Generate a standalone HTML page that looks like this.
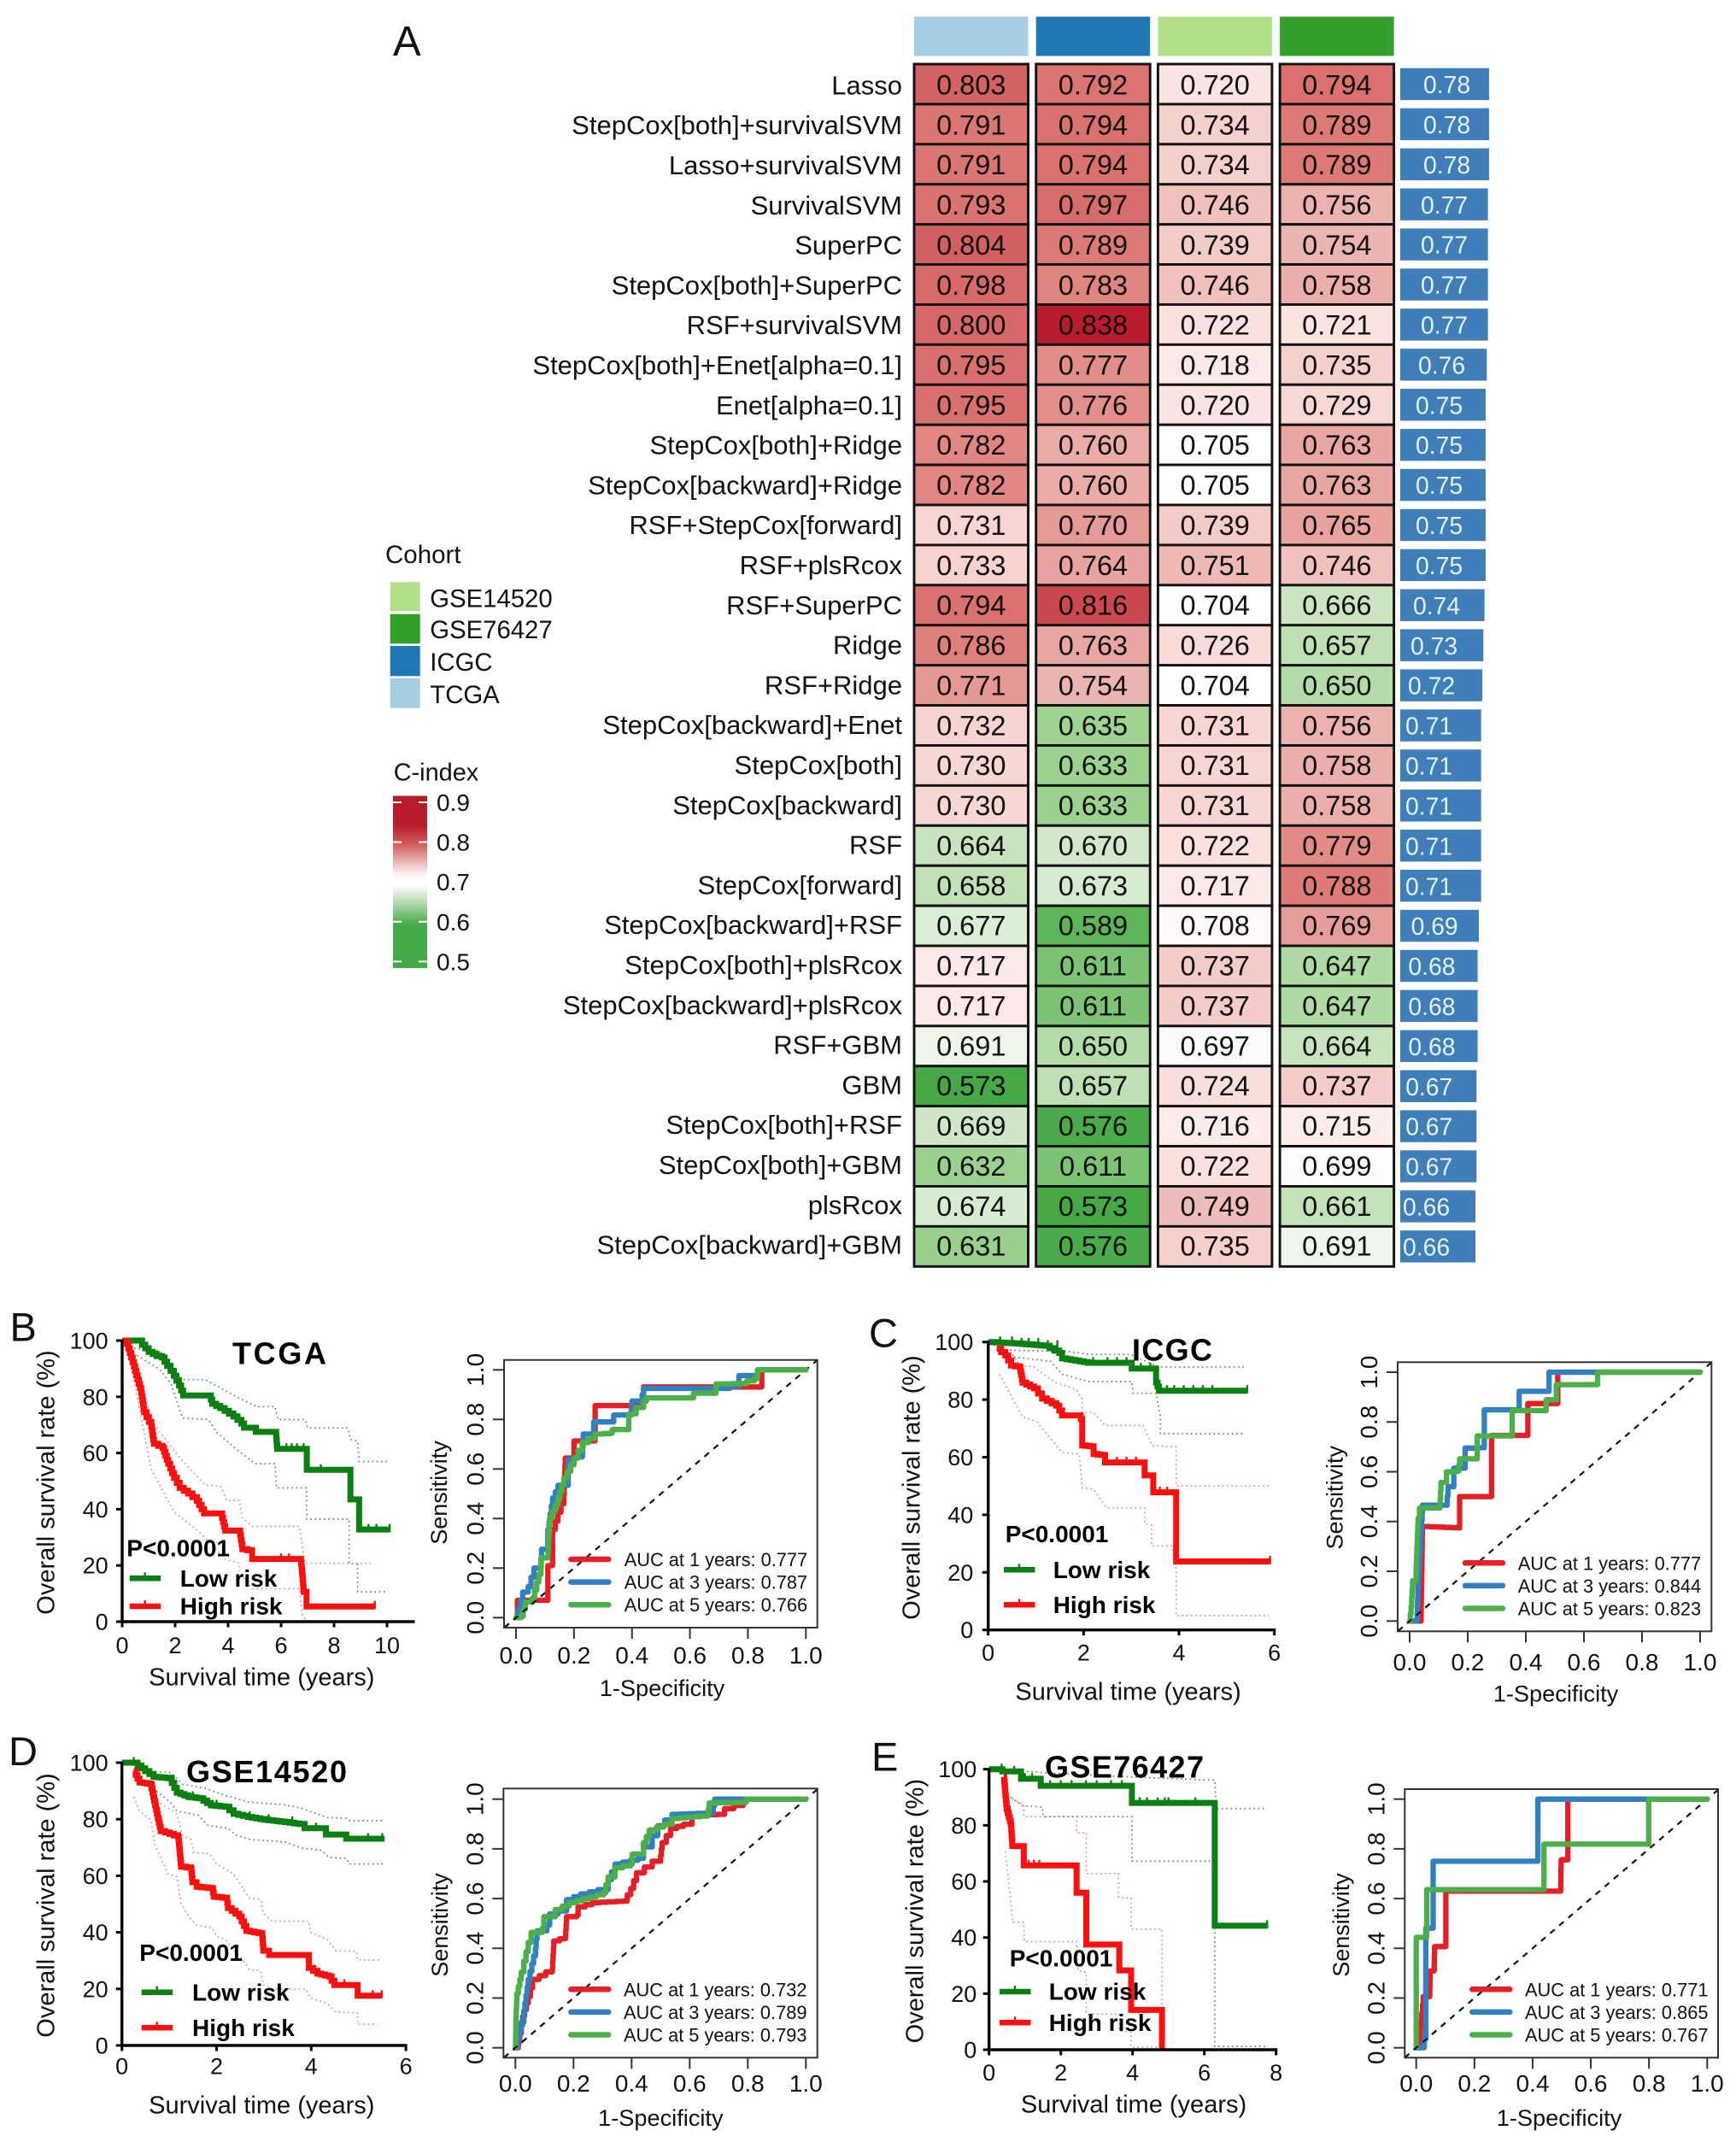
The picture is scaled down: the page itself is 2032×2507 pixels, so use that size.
<!DOCTYPE html>
<html lang="en">
<head>
<meta charset="utf-8">
<title>Prognostic model C-index heatmap with survival and ROC curves</title>
<style>
html,body{margin:0;padding:0;background:#fff;}
svg{display:block;font-family:"Liberation Sans",Arial,sans-serif;}
</style>
</head>
<body>
<svg id="figure" xmlns="http://www.w3.org/2000/svg" width="2032" height="2507" viewBox="0 0 2032 2507">
<defs>
<linearGradient id="cindexGradient" x1="0" y1="0" x2="0" y2="1">
<stop offset="0" stop-color="#b81c2c"/>
<stop offset="0.17" stop-color="#b81c2c"/>
<stop offset="0.28" stop-color="#cf5c5c"/>
<stop offset="0.45" stop-color="#fbeeee"/>
<stop offset="0.49" stop-color="#ffffff"/>
<stop offset="0.52" stop-color="#ffffff"/>
<stop offset="0.63" stop-color="#aed4a8"/>
<stop offset="0.75" stop-color="#45a947"/>
<stop offset="1" stop-color="#45a947"/>
</linearGradient>
</defs>
<rect x="0" y="0" width="2032" height="2507" fill="#fff"/>
</svg>
<script>
/* ---------- Panel A data ---------- */
const modelNames = ["Lasso","StepCox[both]+survivalSVM","Lasso+survivalSVM","SurvivalSVM","SuperPC","StepCox[both]+SuperPC","RSF+survivalSVM","StepCox[both]+Enet[alpha=0.1]","Enet[alpha=0.1]","StepCox[both]+Ridge","StepCox[backward]+Ridge","RSF+StepCox[forward]","RSF+plsRcox","RSF+SuperPC","Ridge","RSF+Ridge","StepCox[backward]+Enet","StepCox[both]","StepCox[backward]","RSF","StepCox[forward]","StepCox[backward]+RSF","StepCox[both]+plsRcox","StepCox[backward]+plsRcox","RSF+GBM","GBM","StepCox[both]+RSF","StepCox[both]+GBM","plsRcox","StepCox[backward]+GBM"];
const tcgaCindex = [0.803,0.791,0.791,0.793,0.804,0.798,0.800,0.795,0.795,0.782,0.782,0.731,0.733,0.794,0.786,0.771,0.732,0.730,0.730,0.664,0.658,0.677,0.717,0.717,0.691,0.573,0.669,0.632,0.674,0.631];
const icgcCindex = [0.792,0.794,0.794,0.797,0.789,0.783,0.838,0.777,0.776,0.760,0.760,0.770,0.764,0.816,0.763,0.754,0.635,0.633,0.633,0.670,0.673,0.589,0.611,0.611,0.650,0.657,0.576,0.611,0.573,0.576];
const gse14520Cindex = [0.720,0.734,0.734,0.746,0.739,0.746,0.722,0.718,0.720,0.705,0.705,0.739,0.751,0.704,0.726,0.704,0.731,0.731,0.731,0.722,0.717,0.708,0.737,0.737,0.697,0.724,0.716,0.722,0.749,0.735];
const gse76427Cindex = [0.794,0.789,0.789,0.756,0.754,0.758,0.721,0.735,0.729,0.763,0.763,0.765,0.746,0.666,0.657,0.650,0.756,0.758,0.758,0.779,0.788,0.769,0.647,0.647,0.664,0.737,0.715,0.699,0.661,0.691];
const meanCindex = [0.78,0.78,0.78,0.77,0.77,0.77,0.77,0.76,0.75,0.75,0.75,0.75,0.75,0.74,0.73,0.72,0.71,0.71,0.71,0.71,0.71,0.69,0.68,0.68,0.68,0.67,0.67,0.67,0.66,0.66];
const cohortLegendNames = ["GSE14520","GSE76427","ICGC","TCGA"];
const colorbarTicks = [0.9,0.8,0.7,0.6,0.5];

/* ---------- Survival curves: [years, survival %] ---------- */
const tcgaLow = [[0,100],[0.55,100],[0.75,98.5],[1,96],[1.3,94.5],[1.5,94],[1.7,91],[1.95,87.5],[2.15,84],[2.3,80.5],[3.3,80.5],[3.4,77.5],[3.7,76],[4.2,73],[4.5,70.5],[4.6,69],[5,69],[5.05,67.5],[5.8,67.5],[5.85,61.5],[6.97,61.5],[6.97,54],[8.62,54],[8.62,43.5],[8.95,43.5],[8.95,32.8],[10.1,32.8]];
const tcgaHigh = [[0,100],[0.18,98.8],[0.45,90.7],[0.72,81.6],[0.83,74.5],[1.1,69.4],[1.2,63.3],[1.53,61.8],[1.74,56.2],[1.96,51.2],[2.17,47.6],[2.49,45.6],[2.82,43],[3.09,38.5],[3.73,38.5],[3.89,32.4],[4.43,32.4],[4.54,25.8],[4.91,25],[4.91,22.3],[6.74,22.3],[6.8,16.7],[6.85,10.6],[6.96,10.6],[6.96,5.4],[9.54,5.4]];
const tcgaLowUpper = [[0.45,97.3],[1.42,96.3],[2.28,86.1],[3.14,86.1],[4.32,80],[5.08,76.5],[5.77,76.5],[5.88,71.9],[6.9,71.9],[7.01,68.9],[8.52,68.9],[8.62,64.8],[8.89,64.3],[8.95,57],[10.08,57]];
const tcgaLowLower = [[0.56,94.7],[1.42,89.7],[1.85,84.6],[2.28,72.4],[3.25,71.9],[3.57,67.4],[4.32,61.3],[5.02,56.2],[5.77,56.2],[5.83,47.6],[6.96,47.6],[6.96,36.5],[8.57,36.5],[8.57,20.8],[8.89,20.3],[8.89,10.6],[9.97,10.6]];
const tcgaHighUpper = [[0.24,97.8],[0.88,79.5],[1.1,71.4],[1.85,62.3],[2.28,57.2],[3.14,48.6],[3.73,48.1],[3.95,43.1],[4.43,43.1],[4.54,37],[4.91,33.9],[6.69,33.9],[6.9,20.8],[9.48,20.8]];
const tcgaHighLower = [[0.34,90.7],[1.1,54.2],[1.96,39],[2.92,31.9],[3.89,22.3],[4.43,20.8],[4.43,17.7],[4.91,11.7],[6.69,11.7],[6.8,2.5],[6.96,0]];
const tcgaLowCensor = [6.2,6.4,6.6,6.85,7.5,9.3,9.6,10.1];
const tcgaHighCensor = [6,6.3,9.54];

const icgcLow = [[0,100],[0.6,99.5],[1.19,98.7],[1.49,96.2],[1.55,94.3],[2.09,92.8],[3.01,92.8],[3.01,90.8],[3.52,90.8],[3.52,85.9],[3.58,83.1],[5.43,83.1]];
const icgcHigh = [[0.18,97.7],[0.36,95.3],[0.48,91.8],[0.66,91.3],[0.72,85.9],[0.96,83.9],[1.13,80.4],[1.43,77.9],[1.55,74.5],[1.91,74.5],[1.97,72],[1.97,64.1],[2.21,63.6],[2.21,61.1],[2.45,60.6],[2.45,58.2],[3.28,58.2],[3.28,53.7],[3.46,53.7],[3.46,47.8],[3.94,47.8],[3.94,23.8],[5.91,23.8]];
const icgcLowUpper = [[0.36,97.2],[1.67,96.7],[2.15,95.7],[2.99,95.7],[3.58,91.3],[5.4,91.3]];
const icgcLowLower = [[0.54,94.8],[1.31,93.3],[1.55,88.8],[2.09,86.3],[3.01,86.3],[3.04,82.2],[3.52,82.2],[3.61,74],[3.61,68.2],[5.37,68.2]];
const icgcHighUpper = [[0.24,97.2],[0.54,95.3],[0.66,91.8],[0.96,91.3],[1.37,86.3],[1.85,83.4],[1.97,80.4],[1.97,75.5],[2.21,75.5],[2.45,71],[3.25,71],[3.43,64.1],[3.94,63.6],[3.94,50],[5.91,50]];
const icgcHighLower = [[0.24,88.8],[0.48,81.4],[0.72,74],[1.01,72.5],[1.55,61.6],[1.91,61.1],[1.97,49.3],[2.21,48.8],[2.48,42.4],[3.28,42.4],[3.28,36.9],[3.43,36.4],[3.43,29.2],[3.85,29.2],[3.94,21],[3.94,5],[5.88,5]];
const icgcLowCensor = [0.25,0.5,0.7,0.85,1.05,1.25,1.45,2.2,2.5,2.7,2.9,3.2,3.4,3.75,3.9,4.1,4.3,4.5,4.7,5.43];
const icgcHighCensor = [2.7,2.9,3.1,3.6,3.75,5.91];

const gseOneLow = [[0,100],[0.25,100],[0.49,97],[0.67,95],[1,94.5],[1.16,89.4],[1.4,87.9],[1.64,87.4],[1.88,84.9],[2.18,84.4],[2.36,81.9],[2.66,80.8],[3.02,79.8],[3.44,79],[3.74,78.3],[3.86,76.8],[4.22,76.8],[4.31,74.6],[4.74,74.6],[4.74,73.1],[5.55,73.1]];
const gseOneHigh = [[0.25,97],[0.37,93],[0.61,92.4],[0.7,84.9],[0.82,75.8],[1.19,73.8],[1.25,63.2],[1.46,62.7],[1.49,57.7],[1.58,56.1],[1.91,55.6],[1.94,52.6],[2.21,52.1],[2.24,48.6],[2.48,45.6],[2.63,40.5],[2.96,39.5],[2.99,33.5],[3.11,32],[3.95,32],[3.95,27.4],[4.13,25.4],[4.37,24.4],[4.49,21.4],[4.98,21.4],[4.98,17.6],[5.49,17.6]];
const gseOneLowUpper = [[0.61,97],[1.03,96.5],[1.28,92.4],[1.76,90.9],[2.18,88.4],[2.66,86.1],[3.44,85.1],[3.8,83.9],[3.98,82.7],[4.34,80.6],[4.74,80.3],[4.8,79.5],[5.49,79.5]];
const gseOneLowLower = [[0.73,89.9],[1.03,85.9],[1.16,82.9],[1.61,81.4],[1.82,77.8],[2.24,76.8],[2.42,74.3],[2.72,72.8],[3.44,72],[3.8,69.8],[4.22,69],[4.37,66.5],[4.74,66.2],[4.8,64.2],[5.52,64.2]];
const gseOneHighUpper = [[0.61,90.9],[0.79,85.9],[1.16,81.9],[1.28,74.3],[1.46,72.8],[1.52,68.2],[1.85,67.7],[2,64.2],[2.36,60.7],[2.69,52.1],[2.93,51.6],[2.99,46.6],[3.17,44],[3.95,44],[3.98,40],[4.34,37.5],[4.52,33.5],[4.95,33.3],[4.98,30.2],[5.46,30.2]];
const gseOneHighLower = [[0.25,87.9],[0.37,82.9],[0.61,79.8],[0.7,70.8],[0.97,60.7],[1.16,59.7],[1.25,50.1],[1.46,44.6],[1.58,42.5],[1.91,41.5],[2,38.5],[2.18,37.5],[2.54,30.4],[2.69,26.9],[2.93,26.4],[2.99,21.4],[3.2,19.9],[3.89,19.9],[3.98,16.8],[4.34,14.8],[4.52,11.8],[4.98,11.5],[4.98,7.5],[5.4,7.5]];
const gseOneLowCensor = [0.25,1.5,2,2.7,3.1,3.6,4.1,5.2,5.5];
const gseOneHighCensor = [4.7,5.3,5.49];

const gseTwoLow = [[0,100],[0.37,100],[0.37,99.2],[0.89,99.2],[0.89,96.6],[1.44,96.6],[1.44,94.1],[3.98,94.1],[3.98,88],[6.29,88],[6.29,44.2],[7.75,44.2]];
const gseTwoHigh = [[0.41,97.2],[0.49,86],[0.61,79.9],[0.65,72.6],[0.97,72.6],[0.97,65.7],[2.44,65.7],[2.44,56],[2.71,56],[2.71,37.5],[3.63,37.5],[3.63,28.3],[3.96,28.3],[3.96,14.2],[4.82,14.2],[4.82,0]];
const gseTwoLowUpper = [[0.93,99.4],[1.56,98.7],[4.02,97.2],[6.29,96.1],[6.33,86],[7.75,86]];
const gseTwoLowLower = [[0.61,90],[0.93,87],[1.48,86.5],[1.52,83.1],[3.98,83.1],[3.98,67.2],[6.29,67.2],[6.29,1.2],[7.71,1.2]];
const gseTwoHighUpper = [[0.53,90],[0.97,87.5],[0.97,83.1],[2.44,83.1],[2.44,77.4],[2.71,77.4],[2.71,62.8],[3.61,62.8],[3.61,54.3],[3.96,54],[3.96,43],[4.82,43],[4.82,0]];
const gseTwoHighLower = [[0.45,70.8],[0.61,52.5],[0.65,45.4],[0.97,45.4],[0.98,38.6],[2.44,38.6],[2.48,28.1],[2.71,27.6],[2.71,12.7],[3.63,12.7],[3.63,6.8],[3.96,6.3],[3.96,0.9],[4.82,0.9]];
const gseTwoLowCensor = [0.35,0.7,1,1.2,1.7,2,2.3,2.7,3,3.4,3.7,4.2,4.4,4.7,4.9,5,5.75,7.75];
const gseTwoHighCensor = [1.1,1.25,1.4];

/* ---------- ROC curves: [1-specificity, sensitivity] ---------- */
const aucYears = [1,3,5];
const tcgaAuc = [0.777,0.787,0.766];
const icgcAuc = [0.777,0.844,0.823];
const gseOneAuc = [0.732,0.789,0.793];
const gseTwoAuc = [0.771,0.865,0.767];
const rocTicks = [0,0.2,0.4,0.6,0.8,1];
const kmYTicks = [0,20,40,60,80,100];
const tcgaRoc1 = [[0,0],[0.005,0],[0.005,0.07],[0.11,0.07],[0.11,0.21],[0.126,0.21],[0.126,0.356],[0.145,0.425],[0.165,0.494],[0.17,0.644],[0.2,0.644],[0.2,0.713],[0.273,0.713],[0.273,0.856],[0.44,0.856],[0.44,0.931],[0.848,0.931],[0.848,1],[1,1]];
const tcgaRoc3 = [[0,0],[0.008,0.034],[0.023,0.103],[0.042,0.126],[0.062,0.2],[0.086,0.2],[0.088,0.276],[0.11,0.28],[0.11,0.356],[0.126,0.483],[0.145,0.534],[0.18,0.563],[0.18,0.638],[0.229,0.66],[0.232,0.741],[0.268,0.747],[0.268,0.79],[0.337,0.79],[0.337,0.818],[0.396,0.818],[0.4,0.874],[0.435,0.9],[0.44,0.925],[0.705,0.925],[0.769,0.943],[0.769,0.977],[0.828,0.977],[0.833,1],[1,1]];
const tcgaRoc5 = [[0,0],[0.018,0.006],[0.032,0.063],[0.057,0.08],[0.086,0.207],[0.086,0.241],[0.11,0.253],[0.116,0.402],[0.145,0.483],[0.165,0.563],[0.2,0.644],[0.229,0.707],[0.273,0.741],[0.327,0.745],[0.332,0.759],[0.389,0.759],[0.389,0.822],[0.44,0.874],[0.45,0.887],[0.607,0.887],[0.612,0.906],[0.681,0.906],[0.69,0.943],[0.769,0.945],[0.823,0.966],[0.833,1],[1,1]];
const icgcRoc1 = [[0,0],[0.039,0],[0.044,0.38],[0.172,0.374],[0.172,0.5],[0.282,0.5],[0.282,0.746],[0.407,0.746],[0.407,0.874],[0.51,0.874],[0.51,1],[1,1]];
const icgcRoc3 = [[0,0],[0.025,0],[0.029,0.151],[0.044,0.466],[0.127,0.466],[0.132,0.54],[0.152,0.546],[0.152,0.614],[0.191,0.62],[0.191,0.695],[0.257,0.698],[0.257,0.849],[0.377,0.849],[0.377,0.923],[0.48,0.923],[0.48,1],[1,1]];
const icgcRoc5 = [[0,0],[0.005,0.059],[0.01,0.162],[0.022,0.208],[0.029,0.414],[0.034,0.454],[0.103,0.454],[0.108,0.557],[0.127,0.563],[0.127,0.6],[0.167,0.603],[0.172,0.652],[0.233,0.652],[0.233,0.744],[0.353,0.744],[0.353,0.846],[0.47,0.846],[0.47,0.889],[0.505,0.889],[0.505,0.95],[0.647,0.95],[0.647,1],[1,1]];
const gseOneRoc1 = [[0,0],[0.01,0.023],[0.025,0.126],[0.044,0.206],[0.059,0.275],[0.127,0.32],[0.132,0.43],[0.172,0.447],[0.176,0.527],[0.211,0.533],[0.216,0.567],[0.265,0.584],[0.373,0.59],[0.397,0.641],[0.417,0.704],[0.471,0.75],[0.5,0.773],[0.505,0.825],[0.534,0.882],[0.578,0.899],[0.608,0.934],[0.696,0.939],[0.72,0.962],[0.784,0.987],[0.794,1],[1,1]];
const gseOneRoc3 = [[0,0],[0.02,0.103],[0.029,0.149],[0.044,0.275],[0.069,0.401],[0.074,0.47],[0.108,0.493],[0.118,0.538],[0.147,0.55],[0.176,0.596],[0.225,0.619],[0.284,0.636],[0.319,0.676],[0.343,0.739],[0.422,0.762],[0.441,0.808],[0.471,0.853],[0.49,0.893],[0.539,0.939],[0.676,0.945],[0.686,1],[1,1]];
const gseOneRoc5 = [[0,0],[0.002,0.126],[0.005,0.218],[0.02,0.304],[0.029,0.349],[0.044,0.424],[0.054,0.464],[0.093,0.481],[0.098,0.527],[0.137,0.556],[0.186,0.584],[0.255,0.607],[0.304,0.624],[0.319,0.687],[0.343,0.724],[0.397,0.739],[0.402,0.779],[0.441,0.825],[0.461,0.876],[0.51,0.899],[0.539,0.922],[0.662,0.934],[0.667,0.985],[0.784,0.987],[0.794,1],[1,1]];
const gseTwoRoc1 = [[0,0],[0.012,0.04],[0.024,0.206],[0.046,0.206],[0.048,0.309],[0.061,0.309],[0.063,0.407],[0.102,0.407],[0.102,0.63],[0.496,0.63],[0.498,0.756],[0.521,0.756],[0.521,1],[1,1]];
const gseTwoRoc3 = [[0,0],[0.022,0],[0.033,0.069],[0.033,0.481],[0.058,0.481],[0.058,0.75],[0.418,0.75],[0.418,1],[1,1]];
const gseTwoRoc5 = [[0,0],[0,0.444],[0.036,0.444],[0.036,0.636],[0.439,0.636],[0.439,0.819],[0.799,0.819],[0.799,1],[1,1]];

/* ---------- layout (pixel geometry, separate from data) ---------- */
const svg = document.getElementById('figure');
const SVGNS = 'http://www.w3.org/2000/svg';

function addGroup(parent, name) {
  const el = document.createElementNS(SVGNS, 'g');
  
  
  parent.appendChild(el);
  return el;
}
function addRect(parent, name, x, y, w, h, fill, stroke, sw) {
  const el = document.createElementNS(SVGNS, 'rect');
  
  
  el.setAttribute('x', x);
  el.setAttribute('y', y);
  el.setAttribute('width', w);
  el.setAttribute('height', h);
  el.setAttribute('fill', fill);
  if (stroke) { el.setAttribute('stroke', stroke); el.setAttribute('stroke-width', sw); }
  parent.appendChild(el);
  return el;
}
function addLine(parent, name, x1, y1, x2, y2, color, width, dash, cap) {
  const el = document.createElementNS(SVGNS, 'line');
  
  
  el.setAttribute('x1', x1);
  el.setAttribute('y1', y1);
  el.setAttribute('x2', x2);
  el.setAttribute('y2', y2);
  el.setAttribute('stroke', color);
  el.setAttribute('stroke-width', width);
  if (dash) el.setAttribute('stroke-dasharray', dash);
  if (cap) el.setAttribute('stroke-linecap', cap);
  parent.appendChild(el);
  return el;
}
function addText(parent, name, str, x, y, size, anchor, weight, fill, rotate, len) {
  const el = document.createElementNS(SVGNS, 'text');
  
  
  el.setAttribute('x', x);
  el.setAttribute('y', y);
  el.setAttribute('font-size', size);
  el.setAttribute('text-anchor', anchor || 'start');
  if (weight) el.setAttribute('font-weight', weight);
  el.setAttribute('fill', fill || '#111');
  if (rotate) el.setAttribute('transform', 'rotate(-90 ' + x + ' ' + y + ')');
  if (len) el.setAttribute('textLength', len);
  el.textContent = str;
  parent.appendChild(el);
  return el;
}
function addPolyline(parent, name, pts, color, width, dash, join, cap) {
  const el = document.createElementNS(SVGNS, 'polyline');
  
  
  el.setAttribute('points', pts.map(function (p) { return p[0].toFixed(1) + ',' + p[1].toFixed(1); }).join(' '));
  el.setAttribute('fill', 'none');
  el.setAttribute('stroke', color);
  el.setAttribute('stroke-width', width);
  if (dash) el.setAttribute('stroke-dasharray', dash);
  el.setAttribute('stroke-linejoin', join || 'miter');
  if (cap) el.setAttribute('stroke-linecap', cap);
  parent.appendChild(el);
  return el;
}
/* Survival and ROC estimators are step functions: render sloped stretches between read points as fine stairs. */
function stairs(pts, step) {
  const out = [pts[0]];
  for (let i = 1; i < pts.length; i++) {
    const a = pts[i-1], b = pts[i];
    const dx = b[0] - a[0], dy = b[1] - a[1];
    if (Math.abs(dx) < 0.5 || Math.abs(dy) < 0.5) { out.push(b); continue; }
    const n = Math.max(1, Math.round(Math.max(Math.abs(dx), Math.abs(dy)) / step));
    for (let k = 1; k <= n; k++) {
      out.push([a[0] + dx * k / n, a[1] + dy * (k - 1) / n]);
      out.push([a[0] + dx * k / n, a[1] + dy * k / n]);
    }
  }
  return out;
}

/* ---------- Panel A ---------- */
const cohortColumns = [tcgaCindex, icgcCindex, gse14520Cindex, gse76427Cindex];
const cohortColors = ['#a6cee3', '#1f78b4', '#b2df8a', '#33a02c'];
const cohortNames = ['tcga', 'icgc', 'gse14520', 'gse76427'];
const redStops = [[0.705, [255,255,255]], [0.72, [251,228,225]], [0.75, [239,188,184]], [0.79, [221,120,116]], [0.803, [212,98,98]], [0.838, [184,28,44]]];
const greenStops = [[0.70, [255,255,255]], [0.691, [238,246,236]], [0.661, [196,226,186]], [0.635, [159,211,146]], [0.59, [95,181,90]], [0.573, [70,169,70]]];
function cellColor(v) {
  const stops = v >= 0.7025 ? redStops : greenStops;
  const sign = v >= 0.7025 ? 1 : -1;
  if (sign * (v - stops[0][0]) <= 0) return 'rgb(255,255,255)';
  for (let i = 1; i < stops.length; i++) {
    if (sign * (v - stops[i][0]) <= 0) {
      const f = (v - stops[i-1][0]) / (stops[i][0] - stops[i-1][0]);
      const c = stops[i-1][1].map(function (a, k) { return Math.round(a + f * (stops[i][1][k] - a)); });
      return 'rgb(' + c.join(',') + ')';
    }
  }
  return 'rgb(' + stops[stops.length-1][1].join(',') + ')';
}
function drawHeatmap() {
  const g = addGroup(svg, 'panel-a-heatmap');
  const colX = function (c) { return 1070 + c * 142.7; };
  const colW = 133.5;
  const rowY = function (r) { return 75 + r * 46.91; };
  const rowH = 46.91;
  addText(g, 'panel-label-a', 'A', 460, 65, 49);
  cohortColors.forEach(function (color, c) {
    addRect(g, 'cohort-bar-' + cohortNames[c], colX(c), 19.5, colW, 46, color);
  });
  modelNames.forEach(function (label, r) {
    addText(g, 'row-label', label, 1056, 110.4 + r * 46.8, 31, 'end');
    cohortColumns.forEach(function (col, c) {
      const v = col[r];
      addRect(g, 'cell-' + cohortNames[c], colX(c), rowY(r), colW, rowH, cellColor(v), '#111', 2.9);
    });
    cohortColumns.forEach(function (col, c) {
      const v = col[r];
      addText(g, 'cell-value', v.toFixed(3), colX(c) + colW / 2, 110.4 + r * 46.87, 32.5, 'middle');
    });
    const m = meanCindex[r];
    addRect(g, 'mean-bar', 1639, rowY(r) + (rowH - 37.4) / 2, 133.3 * m, 37.4, '#3f7eb8');
    const start = m >= 0.7 ? 1645 + (m - 0.71) * 100 * 3 : 1642 + (m - 0.66) * 100 * 3.2;
    addText(g, 'mean-value', m.toFixed(2), start, rowY(r) + rowH / 2 + 10.6, 28.3, 'start', null, '#e4f2fb');
  });
}
function drawLegends() {
  const g = addGroup(svg, 'heatmap-legends');
  addText(g, 'cohort-legend-title', 'Cohort', 451, 658.8, 29.5);
  const swatchColors = ['#b2df8a', '#33a02c', '#1f78b4', '#a6cee3'];
  const swatchTop = [681.3, 718.7, 756, 793.8];
  const swatchH = [34, 34.6, 35.3, 34.9];
  const labelBase = [710.7, 747, 785, 823.2];
  cohortLegendNames.forEach(function (n, i) {
    addRect(g, 'cohort-legend-swatch', 456.7, swatchTop[i], 35, swatchH[i], swatchColors[i]);
    addText(g, 'cohort-legend-label', n, 503.3, labelBase[i], 29.3);
  });
  addText(g, 'cindex-legend-title', 'C-index', 460.7, 913.5, 28.9);
  const bar = addRect(g, 'cindex-colorbar', 460, 931.5, 40, 201.5, 'url(#cindexGradient)');
  bar.setAttribute('shape-rendering', 'crispEdges');
  const cbY = function (v) { return 1125.4 - (v - 0.5) * 466; };
  colorbarTicks.forEach(function (v) {
    addLine(g, 'colorbar-tick', 460, cbY(v), 470, cbY(v), '#fff', 2);
    addLine(g, 'colorbar-tick', 490, cbY(v), 500, cbY(v), '#fff', 2);
    addText(g, 'colorbar-tick-label', v.toFixed(1), 511, cbY(v) + 10, 28);
  });
}

/* ---------- Kaplan-Meier panels ---------- */
function curveValueAt(curve, t) {
  let v = curve[0][1];
  for (let i = 0; i < curve.length; i++) { if (curve[i][0] <= t) v = curve[i][1]; }
  return v;
}
function drawKM(p) {
  const g = addGroup(svg, 'survival-panel-' + p.key);
  const xScale = function (t) { return p.x0 + t * p.xUnit; };
  const yScale = function (s) { return p.y0 - s * p.yUnit; };
  const pts = function (a) { return a.map(function (d) { return [xScale(d[0]), yScale(d[1])]; }); };
  addText(g, 'panel-label', p.letter, p.letterX, p.letterY, 47);

  addPolyline(g, 'low-risk-ci-upper', pts(p.lowUpper), '#5f905f', 1.7, '1.7 3.6');
  addPolyline(g, 'low-risk-ci-lower', pts(p.lowLower), '#5f905f', 1.7, '1.7 3.6');
  addPolyline(g, 'high-risk-ci-upper', pts(p.highUpper), '#e38a8f', 1.7, '1.7 3.6');
  addPolyline(g, 'high-risk-ci-lower', pts(p.highLower), '#e38a8f', 1.7, '1.7 3.6');

  addPolyline(g, 'low-risk-curve', stairs(pts(p.low), 5), '#0b7f12', 7);
  p.lowCensor.forEach(function (t) {
    const y = yScale(curveValueAt(p.low, t));
    addLine(g, 'low-risk-censor-tick', xScale(t), y - 6.5, xScale(t), y + 3, '#0b7f12', 2.4);
  });
  addPolyline(g, 'high-risk-curve', stairs(pts(p.high), 5), '#fb0f0f', 7);
  p.highCensor.forEach(function (t) {
    const y = yScale(curveValueAt(p.high, t));
    addLine(g, 'high-risk-censor-tick', xScale(t), y - 6.5, xScale(t), y + 3, '#fb0f0f', 2.4);
  });

  addLine(g, 'y-axis', p.x0, yScale(100) - 1.5, p.x0, p.y0 + 1.5, '#000', 3.4);
  addLine(g, 'x-axis', p.x0, p.y0, xScale(p.xMax) + 1.5, p.y0, '#000', 3.4);
  kmYTicks.forEach(function (v) {
    addLine(g, 'y-tick', p.x0 - 7, yScale(v), p.x0, yScale(v), '#000', 3);
    addText(g, 'y-tick-label', String(v), p.yLabelX, yScale(v) + 9.5, 27, 'end');
  });
  p.xTicks.forEach(function (v) {
    addLine(g, 'x-tick', xScale(v), p.y0, xScale(v), p.y0 + 6.5, '#000', 3);
    addText(g, 'x-tick-label', String(v), xScale(v), p.xLabelY, 27, 'middle');
  });
  addText(g, 'x-axis-title', 'Survival time (years)', p.xTitleX, p.xTitleY, 29, 'middle');
  addText(g, 'y-axis-title', 'Overall survival rate (%)', p.yTitleX, p.yTitleY, 29, 'middle', null, '#111', true);

  addText(g, 'chart-title', p.title, p.titleX, p.titleY, 36, 'start', 'bold', '#000', false, p.titleLen);
  addText(g, 'p-value', 'P<0.0001', p.pX, p.pY, 28, 'start', 'bold', '#000');
  addLine(g, 'legend-low-risk-line', p.legX, p.legLowY, p.legX + 36.5, p.legLowY, '#0b7f12', 6.5);
  addLine(g, 'legend-low-risk-tick', p.legX + 18, p.legLowY - 7, p.legX + 18, p.legLowY, '#0b7f12', 2.4);
  addText(g, 'legend-low-risk-label', 'Low risk', p.legTextX, p.legLowY + 9.6, 28, 'start', 'bold', '#000');
  addLine(g, 'legend-high-risk-line', p.legX, p.legHighY, p.legX + 36.5, p.legHighY, '#fb0f0f', 6.5);
  addLine(g, 'legend-high-risk-tick', p.legX + 18, p.legHighY - 7, p.legX + 18, p.legHighY, '#fb0f0f', 2.4);
  addText(g, 'legend-high-risk-label', 'High risk', p.legTextX, p.legHighY + 9.6, 28, 'start', 'bold', '#000');
}

/* ---------- ROC panels ---------- */
function drawROC(p) {
  const g = addGroup(svg, 'roc-panel-' + p.key);
  const xScale = function (v) { return p.x0 + v * p.xUnit; };
  const yScale = function (v) { return p.y0 - v * p.yUnit; };
  const colors = ['#e41f26', '#3181c2', '#4daf4a'];
  const names = ['roc-curve-1-year', 'roc-curve-3-year', 'roc-curve-5-year'];

  addLine(g, 'reference-diagonal', xScale(-0.04), yScale(-0.04), xScale(1.04), yScale(1.04), '#111', 2.2, '7 7');
  p.curves.forEach(function (c, i) {
    addPolyline(g, names[i], stairs(c.map(function (d) { return [xScale(d[0]), yScale(d[1])]; }), 9), colors[i], 6.3, null, 'round', 'round');
  });
  addLine(g, 'reference-diagonal-overlay', xScale(-0.04), yScale(-0.04), xScale(0.1), yScale(0.1), '#111', 2.2, '7 7');
  addRect(g, 'plot-frame', p.boxL, p.boxT, p.boxR - p.boxL, p.boxB - p.boxT, 'none', '#333', 2);
  rocTicks.forEach(function (v) {
    addLine(g, 'x-tick', xScale(v), p.boxB, xScale(v), p.boxB + 13, '#333', 2);
    addText(g, 'x-tick-label', v.toFixed(1), xScale(v), p.xLabelY, 28, 'middle');
    addLine(g, 'y-tick', p.boxL - 13, yScale(v), p.boxL, yScale(v), '#333', 2);
    addText(g, 'y-tick-label', v.toFixed(1), p.boxL - 24, yScale(v), 28, 'middle', null, '#111', true);
  });
  addText(g, 'x-axis-title', '1-Specificity', p.xTitleX, p.xTitleY, 27.2, 'middle');
  addText(g, 'y-axis-title', 'Sensitivity', p.yTitleX, p.yTitleY, 27, 'middle', null, '#111', true);
  aucYears.forEach(function (yr, i) {
    const y = p.legY + i * 26.6;
    addLine(g, 'legend-line', p.legX, y, p.legX + 44, y, colors[i], 6.5, null, 'round');
    addText(g, 'legend-label', 'AUC at ' + yr + ' years: ' + p.auc[i].toFixed(3), p.legTextX, y + 8, 21.8);
  });
}

drawHeatmap();
drawLegends();

drawKM({key:'tcga', letter:'B', letterX:11.5, letterY:1569.3, title:'TCGA', titleX:272, titleY:1596.7, titleLen:110,
  x0:143, xUnit:31, xMax:11, y0:1898, yUnit:3.29, xTicks:[0,2,4,6,8,10], yLabelX:126.7, xLabelY:1935,
  xTitleX:306.3, xTitleY:1972.7, yTitleX:63.3, yTitleY:1735, pX:148.3, pY:1821.7,
  legX:151.7, legLowY:1847.3, legHighY:1880, legTextX:210.7,
  low:tcgaLow, high:tcgaHigh, lowUpper:tcgaLowUpper, lowLower:tcgaLowLower, highUpper:tcgaHighUpper, highLower:tcgaHighLower, lowCensor:tcgaLowCensor, highCensor:tcgaHighCensor});
drawKM({key:'icgc', letter:'C', letterX:1017, letterY:1576.7, title:'ICGC', titleX:1325, titleY:1592.7, titleLen:94,
  x0:1156.7, xUnit:55.83, xMax:6, y0:1907.7, yUnit:3.37, xTicks:[0,2,4,6], yLabelX:1139.3, xLabelY:1943.3,
  xTitleX:1320.5, xTitleY:1989.3, yTitleX:1076.7, yTitleY:1741, pX:1176.7, pY:1805,
  legX:1175, legLowY:1837.3, legHighY:1878.3, legTextX:1232.7,
  low:icgcLow, high:icgcHigh, lowUpper:icgcLowUpper, lowLower:icgcLowLower, highUpper:icgcHighUpper, highLower:icgcHighLower, lowCensor:icgcLowCensor, highCensor:icgcHighCensor});
drawKM({key:'gse14520', letter:'D', letterX:10, letterY:2066, title:'GSE14520', titleX:218, titleY:2086, titleLen:188,
  x0:142.7, xUnit:55.4, xMax:6, y0:2394, yUnit:3.31, xTicks:[0,2,4,6], yLabelX:126.7, xLabelY:2427.3,
  xTitleX:306.3, xTitleY:2473.3, yTitleX:63.3, yTitleY:2230, pX:163.3, pY:2295,
  legX:165.7, legLowY:2331.7, legHighY:2373.3, legTextX:225,
  low:gseOneLow, high:gseOneHigh, lowUpper:gseOneLowUpper, lowLower:gseOneLowLower, highUpper:gseOneHighUpper, highLower:gseOneHighLower, lowCensor:gseOneLowCensor, highCensor:gseOneHighCensor});
drawKM({key:'gse76427', letter:'E', letterX:1020, letterY:2072.7, title:'GSE76427', titleX:1223, titleY:2080.7, titleLen:186,
  x0:1157.7, xUnit:42, xMax:8, y0:2399, yUnit:3.283, xTicks:[0,2,4,6,8], yLabelX:1143.3, xLabelY:2435,
  xTitleX:1327, xTitleY:2472.7, yTitleX:1080.7, yTitleY:2236.7, pX:1181.7, pY:2301.7,
  legX:1170, legLowY:2331, legHighY:2367.3, legTextX:1227.7,
  low:gseTwoLow, high:gseTwoHigh, lowUpper:gseTwoLowUpper, lowLower:gseTwoLowLower, highUpper:gseTwoHighUpper, highLower:gseTwoHighLower, lowCensor:gseTwoLowCensor, highCensor:gseTwoHighCensor});

drawROC({key:'tcga', x0:604, xUnit:339.3, y0:1893.3, yUnit:290, boxL:590, boxR:956.7, boxT:1591.7, boxB:1905,
  xLabelY:1947, xTitleX:775, xTitleY:1985, yTitleX:523, yTitleY:1747, legX:668.3, legY:1825, legTextX:730.7,
  auc:tcgaAuc, curves:[tcgaRoc1, tcgaRoc3, tcgaRoc5]});
drawROC({key:'icgc', x0:1650, xUnit:340, y0:1897.3, yUnit:291.3, boxL:1636, boxR:2003.3, boxT:1594.3, boxB:1909.3,
  xLabelY:1955, xTitleX:1821, xTitleY:1991.7, yTitleX:1571.7, yTitleY:1752.7, legX:1715, legY:1829.3, legTextX:1776.7,
  auc:icgcAuc, curves:[icgcRoc1, icgcRoc3, icgcRoc5]});
drawROC({key:'gse14520', x0:603.3, xUnit:340, y0:2396.7, yUnit:291, boxL:589.3, boxR:956.7, boxT:2093.3, boxB:2408.3,
  xLabelY:2448, xTitleX:773.3, xTitleY:2488, yTitleX:524, yTitleY:2253, legX:668.3, legY:2328.3, legTextX:730,
  auc:gseOneAuc, curves:[gseOneRoc1, gseOneRoc3, gseOneRoc5]});
drawROC({key:'gse76427', x0:1657.7, xUnit:340.6, y0:2396.7, yUnit:291, boxL:1644.3, boxR:2011, boxT:2094, boxB:2408.3,
  xLabelY:2448, xTitleX:1825, xTitleY:2488, yTitleX:1579, yTitleY:2253, legX:1723.3, legY:2328.3, legTextX:1785,
  auc:gseTwoAuc, curves:[gseTwoRoc1, gseTwoRoc3, gseTwoRoc5]});
</script>
</body>
</html>
